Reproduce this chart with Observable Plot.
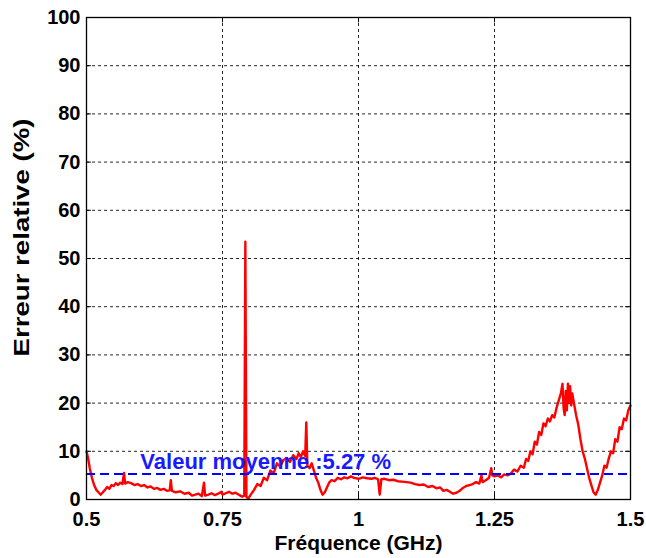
<!DOCTYPE html>
<html><head><meta charset="utf-8">
<script src="https://cdn.jsdelivr.net/npm/d3@7"></script>
<script src="https://cdn.jsdelivr.net/npm/@observablehq/plot@0.6"></script>
<style>
body{margin:0;background:#fff;}
</style></head>
<body><div id="chart"></div>
<script>
const freq = [0.500,0.503,0.506,0.510,0.514,0.518,0.522,0.526,0.530,0.534,0.538,0.542,0.546,0.550,0.554,0.558,0.562,0.566,0.569,0.571,0.576,0.582,0.588,0.594,0.600,0.606,0.612,0.618,0.624,0.630,0.636,0.642,0.648,0.653,0.655,0.657,0.664,0.672,0.680,0.688,0.694,0.700,0.706,0.712,0.716,0.718,0.724,0.730,0.736,0.742,0.748,0.750,0.756,0.762,0.768,0.774,0.780,0.786,0.790,0.792,0.794,0.798,0.802,0.808,0.814,0.820,0.826,0.832,0.838,0.844,0.850,0.856,0.862,0.868,0.874,0.880,0.886,0.890,0.894,0.898,0.902,0.904,0.906,0.910,0.914,0.918,0.922,0.926,0.930,0.934,0.938,0.942,0.946,0.950,0.956,0.962,0.968,0.974,0.980,0.986,0.992,1.000,1.008,1.016,1.024,1.030,1.036,1.039,1.042,1.048,1.056,1.064,1.072,1.080,1.088,1.096,1.104,1.112,1.120,1.128,1.136,1.144,1.150,1.156,1.162,1.168,1.174,1.180,1.186,1.192,1.198,1.204,1.210,1.216,1.222,1.226,1.228,1.234,1.240,1.244,1.246,1.250,1.256,1.262,1.268,1.274,1.280,1.286,1.292,1.298,1.304,1.308,1.312,1.316,1.320,1.324,1.328,1.332,1.336,1.340,1.344,1.348,1.352,1.356,1.360,1.364,1.368,1.372,1.375,1.377,1.379,1.381,1.383,1.385,1.387,1.389,1.391,1.393,1.396,1.400,1.404,1.408,1.412,1.416,1.420,1.424,1.428,1.432,1.436,1.440,1.444,1.448,1.452,1.456,1.460,1.464,1.468,1.472,1.476,1.480,1.484,1.488,1.492,1.496,1.500];
const errPct = [10.0,8.5,6.5,4.5,3.0,2.0,1.5,1.0,1.5,2.0,2.6,2.2,3.0,2.8,3.4,3.0,3.5,3.2,5.5,3.3,3.6,3.4,3.0,3.2,2.8,3.0,2.5,2.7,2.2,2.4,2.0,2.2,1.8,1.9,4.0,1.8,1.5,1.7,1.2,1.4,0.8,1.0,1.2,0.7,3.5,0.8,1.0,1.3,0.9,1.2,1.6,1.0,1.3,1.6,1.2,1.4,1.0,0.6,0.8,53.5,0.5,0.3,1.0,
  2.0,3.2,2.8,4.5,4.0,6.0,5.4,7.5,6.8,8.2,8.6,7.8,9.2,8.4,9.6,8.8,10.0,9.0,
  16.0,7.0,6.5,7.5,6.0,4.5,3.5,2.0,1.0,1.5,2.5,3.5,4.0,3.8,4.5,4.2,4.6,4.4,4.8,4.5,4.3,4.6,4.4,4.3,4.5,4.2,1.0,4.2,4.3,4.0,4.1,3.8,3.7,3.6,3.5,3.2,3.0,3.1,2.6,2.8,2.3,2.5,1.8,2.0,1.6,1.2,1.4,1.8,2.4,2.8,3.0,3.2,3.6,3.3,5.0,3.6,4.0,4.5,6.5,5.0,4.8,5.0,4.6,5.2,5.0,
  5.4,6.2,5.8,7.0,6.6,8.4,8.0,10.0,9.4,12.0,11.4,14.0,13.4,15.8,15.2,16.8,16.2,17.5,17.0,19.0,20.5,22.0,
  24.0,19.0,17.5,22.5,18.5,24.0,20.0,23.5,19.5,22.0,20.0,17.5,15.5,12.5,10.0,8.5,6.5,4.5,3.0,1.5,1.0,2.0,3.5,
  5.0,7.0,6.6,8.5,10.0,9.6,12.5,12.0,15.0,14.6,16.8,16.4,18.5,19.5];
const meanValue = 5.27;
const meanLabel = ["Valeur moyenne :5.27 %"];
const xTicks = [0.5, 0.75, 1, 1.25, 1.5];
const yTicks = [0,10,20,30,40,50,60,70,80,90,100];
const xLabel = "Fréquence (GHz)";
const yLabel = "Erreur relative (%)";

const data = freq.map((f, i) => ({f, v: errPct[i]}));

const chart = Plot.plot({
  width: 646, height: 558,
  marginLeft: 86, marginRight: 16, marginTop: 17, marginBottom: 59,
  style: {fontFamily: "'Liberation Sans', Arial, sans-serif", fontSize: "20px", fontWeight: "bold", color: "#000", background: "#fff"},
  x: {domain: [0.5, 1.5]},
  y: {domain: [0, 100]},
  marks: [
    Plot.gridX(xTicks.slice(1, -1), {stroke: "#000", strokeOpacity: 0.85, strokeDasharray: "3,3", strokeWidth: 1}),
    Plot.gridY(yTicks.slice(1, -1), {stroke: "#000", strokeOpacity: 0.85, strokeDasharray: "3,3", strokeWidth: 1}),
    Plot.ruleX(xTicks, {y1: 0, y2: 1.1, stroke: "#000"}),
    Plot.ruleX(xTicks, {y1: 98.9, y2: 100, stroke: "#000"}),
    Plot.ruleY(yTicks, {x1: 0.5, x2: 0.509, stroke: "#000"}),
    Plot.ruleY(yTicks, {x1: 1.491, x2: 1.5, stroke: "#000"}),
    Plot.axisX(xTicks, {tickSize: 0, tickPadding: 12, label: null, tickFormat: d => String(d)}),
    Plot.axisY(yTicks, {tickSize: 0, tickPadding: 6, label: null}),
    Plot.line(data, {x: "f", y: "v", stroke: "#ff0000", strokeWidth: 2.4}),
    Plot.ruleY([meanValue], {stroke: "#0000ff", strokeWidth: 2, strokeDasharray: "9,5"}),
    Plot.text(meanLabel, {x: 0.599, y: 7.7, text: d => d, textAnchor: "start", fill: "#1a1aff", fontSize: 22, fontWeight: "bold"}),
    Plot.text([xLabel], {frameAnchor: "bottom", text: d => d, dy: 50, fontSize: 21, fontWeight: "bold"}),
    Plot.text([yLabel], {frameAnchor: "left", text: d => d, rotate: -90, dx: -65, dy: 98, textAnchor: "start", fontSize: 22, fontWeight: "bold"}),
    Plot.frame({stroke: "#000", strokeWidth: 1.3})
  ]
});
document.getElementById("chart").appendChild(chart);
d3.select(chart).selectAll("text").each(function() {
  if (this.textContent === yLabel) {
    d3.select(this).attr("textLength", 238).attr("lengthAdjust", "spacingAndGlyphs");
  }
});
</script>
</body></html>
